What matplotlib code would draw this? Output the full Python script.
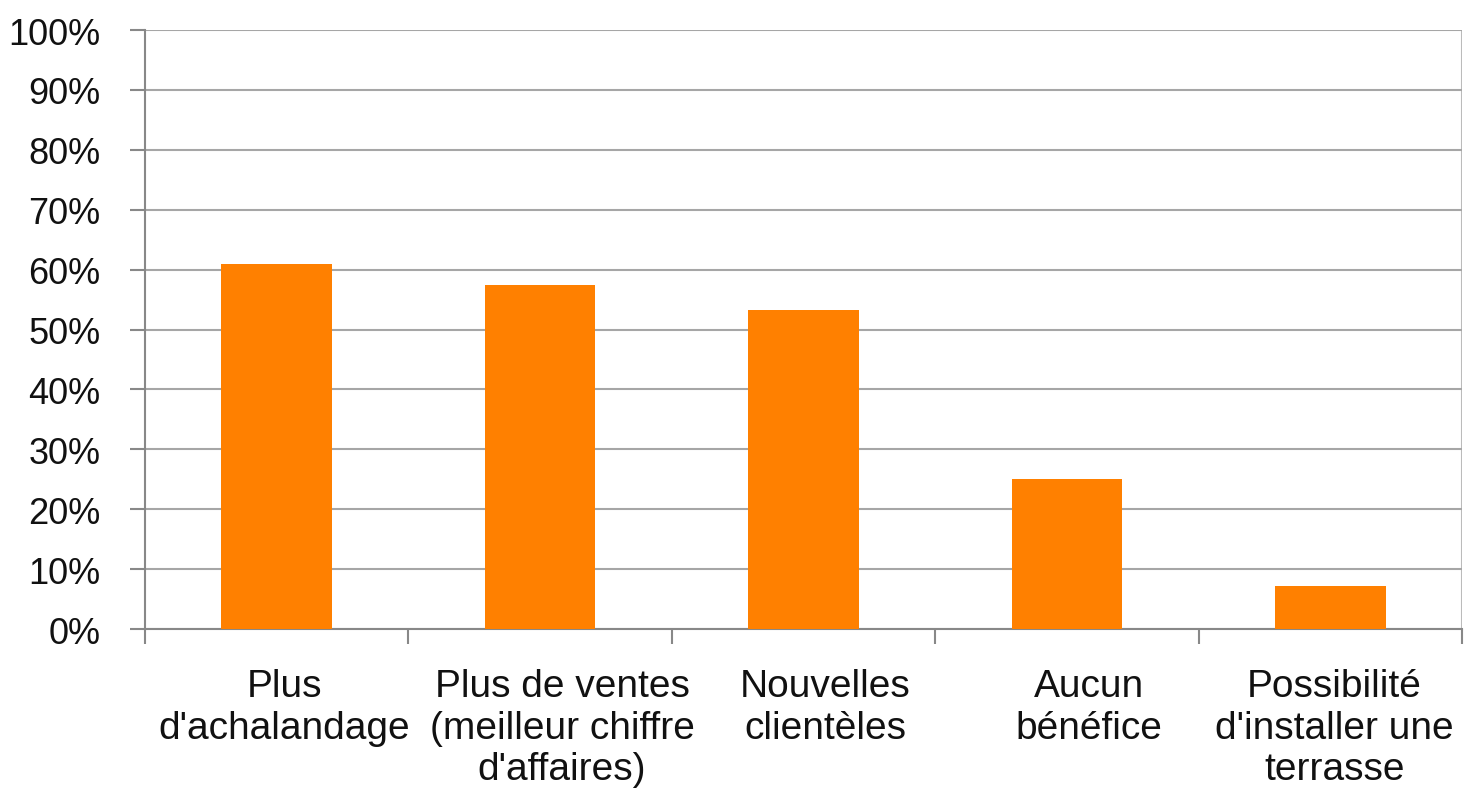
import matplotlib
matplotlib.use("Agg")
import matplotlib.pyplot as plt
import matplotlib.transforms as mtransforms
from matplotlib.ticker import PercentFormatter, FixedLocator

categories = [
    "Plus\nd'achalandage",
    "Plus de ventes\n(meilleur chiffre\nd'affaires)",
    "Nouvelles\nclientèles",
    "Aucun\nbénéfice",
    "Possibilité\nd'installer une\nterrasse",
]
values = [61, 57.5, 53.3, 25, 7.2]
yticks = [0, 10, 20, 30, 40, 50, 60, 70, 80, 90, 100]

plt.rcParams['font.family'] = ['Liberation Sans', 'DejaVu Sans']

fig = plt.figure(figsize=(14.64, 8.04), dpi=100)
ax = fig.add_axes([0.0990, 0.2164, 0.8996, 0.7450])

x = list(range(len(categories)))
ax.bar(x, values, width=0.42, color='#FF8000', zorder=3)

ax.set_xlim(-0.5, len(categories) - 0.5)
ax.set_ylim(0, 100)
ax.set_yticks(yticks)
ax.yaxis.set_major_formatter(PercentFormatter(decimals=0))
ax.grid(axis='y', color='#a6a6a6', linewidth=1.5, zorder=0)

for s in ['top', 'right']:
    ax.spines[s].set_visible(False)
ax.spines['left'].set_color('#888888')
ax.spines['left'].set_linewidth(1.5)
ax.spines['bottom'].set_color('#888888')
ax.spines['bottom'].set_linewidth(1.5)
ax.axvline(len(categories) - 0.5, color='#bbbbbb', linewidth=1.5, zorder=1)

ax.tick_params(axis='y', length=11, width=1.5, color='#888888', pad=21,
               labelsize=26, labelcolor='#111111')

ax.set_xticks(x)
ax.set_xticklabels(categories, fontsize=28, color='#111111', linespacing=1.2)
ax.tick_params(axis='x', which='major', length=0, pad=28)
ax.xaxis.set_minor_locator(FixedLocator([i - 0.5 for i in range(len(categories) + 1)]))
ax.tick_params(axis='x', which='minor', length=11, width=1.5, color='#888888')

shifts = [8, 22, 22, 22, 4]
for lbl, dx in zip(ax.get_xticklabels(), shifts):
    lbl.set_transform(lbl.get_transform() + mtransforms.ScaledTranslation(dx / 100, 0, fig.dpi_scale_trans))

fig.savefig("out.png", dpi=100, facecolor='white')
